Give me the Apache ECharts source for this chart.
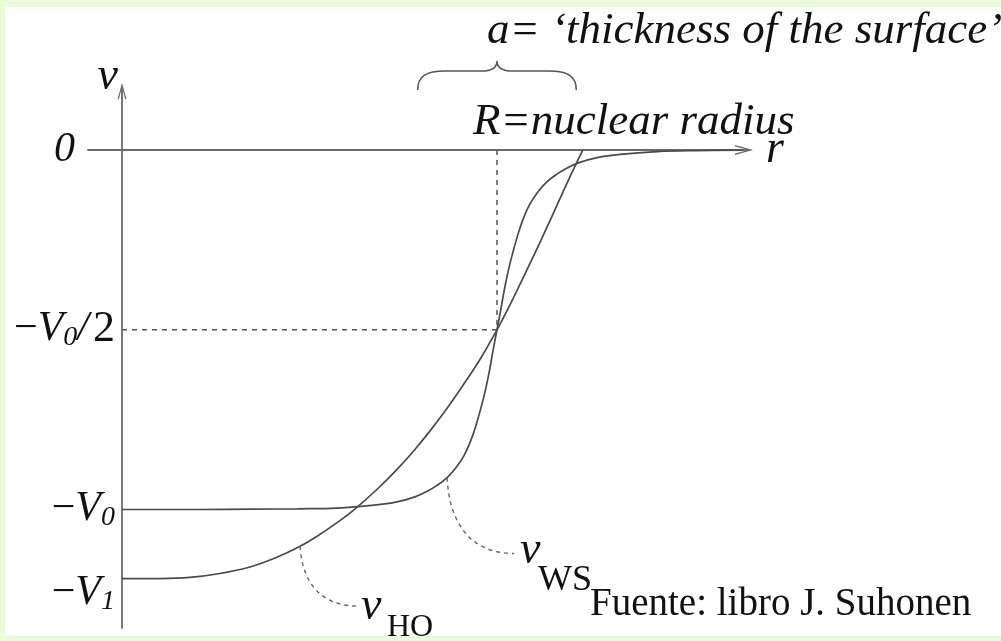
<!DOCTYPE html>
<html><head><meta charset="utf-8">
<script src="https://cdn.jsdelivr.net/npm/echarts@6/dist/echarts.min.js"></script>
<style>
html,body{margin:0;padding:0;background:#eafbd9;}
#wrap{position:relative;width:1001px;height:641px;background:#eafbd9;overflow:hidden}
#paper{position:absolute;left:5px;top:7px;width:996px;height:629px;background:#fff}
#chart{position:absolute;left:0;top:0;width:1001px;height:641px}
</style></head><body>
<div id="wrap"><div id="paper"></div><div id="chart"></div></div>
<script>
// r in units of the nuclear radius R, potential in units of V0
const R = 1.0;
const V1 = 1.192;
const surfaceThickness = 0.423;
const yTickValues = [0, -0.5, -1, -V1];
const yTickLabels = ['0', '−V_0/2', '−V_0', '−V_1'];
// Woods-Saxon potential
const wsR = [0, 0.208, 0.347, 0.467, 0.573, 0.672, 0.733, 0.781, 0.813, 0.840, 0.867, 0.891, 0.912, 0.928, 0.944, 0.965, 0.979, 0.989, 1.000, 1.011, 1.021, 1.035, 1.056, 1.072, 1.088, 1.109, 1.133, 1.160, 1.187, 1.219, 1.267, 1.328, 1.427, 1.533, 1.653];
const wsV = [-1.0, -1.0, -0.999, -0.998, -0.996, -0.988, -0.979, -0.965, -0.950, -0.933, -0.911, -0.883, -0.850, -0.814, -0.766, -0.686, -0.619, -0.560, -0.500, -0.439, -0.381, -0.314, -0.234, -0.186, -0.150, -0.117, -0.089, -0.067, -0.050, -0.035, -0.021, -0.012, -0.0045, -0.0017, -0.0006];
// harmonic oscillator potential
const hoR = [0, 0.101, 0.181, 0.261, 0.341, 0.408, 0.475, 0.528, 0.581, 0.621, 0.688, 0.741, 0.781, 0.821, 0.861, 0.909, 0.955, 1.000, 1.035, 1.075, 1.115, 1.149, 1.189, 1.229];
const hoV = [-1.192, -1.192, -1.189, -1.178, -1.160, -1.135, -1.102, -1.069, -1.031, -0.999, -0.936, -0.880, -0.833, -0.782, -0.727, -0.655, -0.582, -0.500, -0.430, -0.344, -0.256, -0.179, -0.087, 0];

const AX = '#6a6a6a', CV = '#4a4a4a', SERIF = '"Liberation Serif", "DejaVu Serif", serif';
const arrowPath = 'path://M0,18L5,0L10,18L8.5,18L5,4.8L1.5,18Z M4.35,1.5L5.65,1.5L5.65,18L4.35,18Z';

function richLabel(s) {
  let out = '', i = 0;
  while (i < s.length) {
    const c = s[i];
    if (c === '−') { out += '{m|−}'; i++; }
    else if (c === '_') { out += '{s|' + s[i + 1] + '}'; i += 2; }
    else if (/[0-9]/.test(c)) { out += '{n|' + c + '}'; i++; }
    else { out += '{i|' + c + '}'; i++; }
  }
  return out;
}

const chart = echarts.init(document.getElementById('chart'), null, {renderer: 'canvas'});
const option = {
  animation: false,
  grid: {left: 88, right: 257, top: 91, bottom: 13, containLabel: false, outerBoundsMode: 'none'},
  xAxis: {
    type: 'value', min: -0.0907, max: 1.6587,
    axisLine: {onZero: true, symbol: ['none', arrowPath], symbolSize: [12, 18], lineStyle: {color: AX, width: 1.8}},
    axisTick: {show: false}, axisLabel: {show: false}, splitLine: {show: false},
    name: 'r', nameLocation: 'end', nameGap: 22,
    nameTextStyle: {fontFamily: SERIF, fontStyle: 'italic', fontSize: 46, color: '#111', verticalAlign: 'middle'}
  },
  yAxis: {
    type: 'value', min: -1.3296, max: 0.1641,
    axisLine: {onZero: true, symbol: ['none', arrowPath], symbolSize: [11, 16], lineStyle: {color: AX, width: 1.8}},
    axisTick: {show: false}, splitLine: {show: false},
    axisLabel: {
      customValues: yTickValues, margin: -27, color: '#111',
      formatter: function (v) {
        const k = yTickValues.findIndex(t => Math.abs(t - v) < 1e-6);
        if (k < 0) return '';
        const lab = yTickLabels[k];
        if (lab === '0') return '{z|0}';
        let r = richLabel(lab);
        if (k === 3) r = '{e| }\n' + r;
        return r;
      },
      rich: {
        i: {fontFamily: SERIF, fontStyle: 'italic', fontSize: 42, lineHeight: 44, verticalAlign: 'top', color: '#111'},
        n: {fontFamily: SERIF, fontSize: 44, lineHeight: 44, verticalAlign: 'top', color: '#111', padding: [0, 0, 0, 4]},
        m: {fontFamily: SERIF, fontSize: 42, lineHeight: 44, verticalAlign: 'top', color: '#111'},
        s: {fontFamily: SERIF, fontStyle: 'italic', fontSize: 28, lineHeight: 28, padding: [21, 0, 0, 0], verticalAlign: 'bottom', color: '#111'},
        z: {fontFamily: SERIF, fontStyle: 'italic', fontSize: 42, lineHeight: 44, padding: [0, 40, 0, 0], color: '#111'},
        e: {fontSize: 2, lineHeight: 30}
      }
    },
    name: 'v', nameLocation: 'end', nameGap: 14,
    nameTextStyle: {fontFamily: SERIF, fontStyle: 'italic', fontSize: 46, color: '#111', align: 'right', verticalAlign: 'middle', padding: [0, 4, 0, 0]}
  },
  series: [
    {
      type: 'line', name: 'WS', data: wsR.map((r, i) => [r, wsV[i]]), smooth: 0.4, showSymbol: false,
      lineStyle: {color: CV, width: 1.7}, z: 3
    },
    {
      type: 'line', name: 'HO', data: hoR.map((r, i) => [r, hoV[i]]), smooth: 0.4, showSymbol: false,
      lineStyle: {color: CV, width: 1.7}, z: 3
    },
    {
      type: 'line', name: 'guideV', data: [[R, 0], [R, yTickValues[1]]], showSymbol: false,
      lineStyle: {color: '#555', width: 1.5, type: [5, 5]}, z: 2
    },
    {
      type: 'line', name: 'guideH', data: [[0, yTickValues[1]], [R, yTickValues[1]]], showSymbol: false,
      lineStyle: {color: '#555', width: 1.5, type: [5, 5]}, z: 2
    },
    {
      type: 'custom', name: 'annotations', clip: false, z: 4,
      data: [[R, 0]],
      renderItem: function (params, api) {
        const L = api.coord([R - surfaceThickness / 2, 0.167]);
        const Rt = api.coord([R + surfaceThickness / 2, 0.167]);
        const C = api.coord([R, 0.2476]);
        const yb = L[1], yt = C[1], ym = yt + 0.35 * (yb - yt);
        const xl = L[0], xr = Rt[0], xc = C[0];
        const brace = 'M' + xl + ',' + yb + ' C' + xl + ',' + (ym + 5) + ' ' + (xl + 8) + ',' + ym + ' ' + (xl + 28) + ',' + ym +
          ' L' + (xc - 16) + ',' + ym + ' C' + (xc - 5) + ',' + ym + ' ' + xc + ',' + (ym - 4) + ' ' + xc + ',' + yt +
          ' C' + xc + ',' + (ym - 4) + ' ' + (xc + 5) + ',' + ym + ' ' + (xc + 16) + ',' + ym +
          ' L' + (xr - 28) + ',' + ym + ' C' + (xr - 8) + ',' + ym + ' ' + xr + ',' + (ym + 5) + ' ' + xr + ',' + yb;
        function leader(p0, dx, dy) {
          const x1 = p0[0] + dx, y1 = p0[1] + dy;
          return 'M' + p0[0] + ',' + p0[1] + ' C' + (p0[0] + 2) + ',' + (p0[1] + 0.6 * dy) + ' ' + (p0[0] + 0.35 * dx) + ',' + y1 + ' ' + x1 + ',' + y1;
        }
        const ws0 = api.coord([wsR[10], wsV[10]]);
        const ho0 = api.coord([hoR[6], hoV[6]]);
        return {
          type: 'group', children: [
            {type: 'path', shape: {pathData: brace}, style: {fill: 'none', stroke: '#555', lineWidth: 1.5}},
            {type: 'path', shape: {pathData: leader(ws0, 67, 76)}, style: {fill: 'none', stroke: '#666', lineWidth: 1.4, lineDash: [4, 4]}},
            {type: 'path', shape: {pathData: leader(ho0, 58, 60)}, style: {fill: 'none', stroke: '#666', lineWidth: 1.4, lineDash: [4, 4]}}
          ]
        };
      }
    }
  ],
  graphic: [
    {type: 'text', x: 487, y: 31, style: {text: 'a= ‘thickness of the surface’', font: 'italic 45px ' + SERIF, fill: '#111', verticalAlign: 'middle'}},
    {type: 'text', x: 473, y: 122, style: {text: 'R=nuclear radius', font: 'italic 45px ' + SERIF, fill: '#111', verticalAlign: 'middle'}},
    {type: 'text', x: 520, y: 551, style: {text: 'v', font: 'italic 46px ' + SERIF, fill: '#111', verticalAlign: 'middle'}},
    {type: 'text', x: 538, y: 581, style: {text: 'WS', font: '36px ' + SERIF, fill: '#111', verticalAlign: 'middle'}},
    {type: 'text', x: 361, y: 607, style: {text: 'v', font: 'italic 46px ' + SERIF, fill: '#111', verticalAlign: 'middle'}},
    {type: 'text', x: 387, y: 628, style: {text: 'HO', font: '32px ' + SERIF, fill: '#111', verticalAlign: 'middle'}},
    {type: 'text', x: 590, y: 605, style: {text: 'Fuente: libro J. Suhonen', font: '39px ' + SERIF, fill: '#111', verticalAlign: 'middle'}}
  ]
};
chart.setOption(option);
</script>
</body></html>
